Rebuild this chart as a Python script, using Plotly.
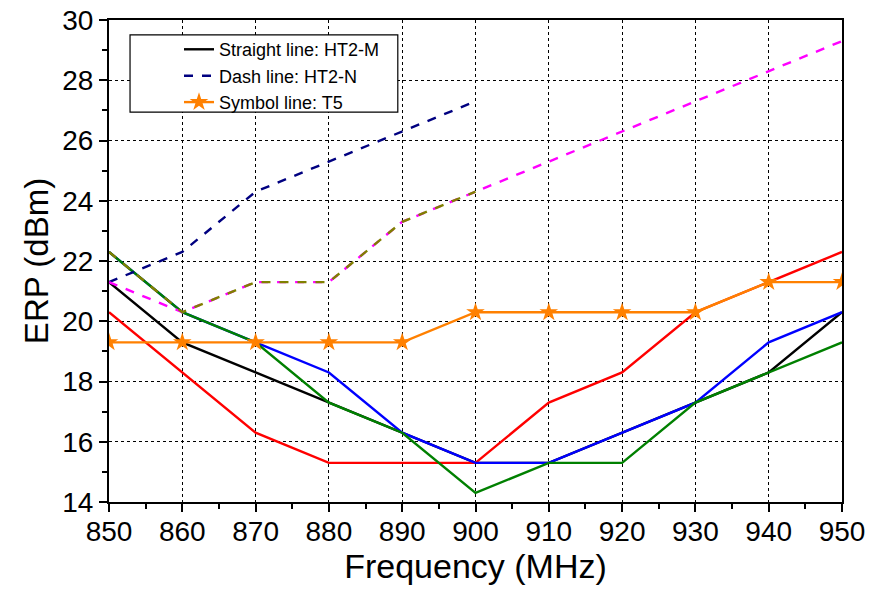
import plotly.graph_objects as go

freq = [850, 860, 870, 880, 890, 900, 910, 920, 930, 940, 950]

ht2m_black = [21.3, 19.3, 18.3, 17.3, 16.3, 15.3, 15.3, 16.3, 17.3, 18.3, 20.3]
ht2m_red = [20.3, 18.3, 16.3, 15.3, 15.3, 15.3, 17.3, 18.3, 20.3, 21.3, 22.3]
ht2m_blue = [22.3, 20.3, 19.3, 18.3, 16.3, 15.3, 15.3, 16.3, 17.3, 19.3, 20.3]
ht2m_green = [22.3, 20.3, 19.3, 17.3, 16.3, 14.3, 15.3, 15.3, 17.3, 18.3, 19.3]

ht2n_navy = [21.3, 22.3, 24.3, 25.3, 26.3, 27.3, None, None, None, None, None]
ht2n_magenta = [21.3, 20.3, 21.3, 21.3, 23.3, 24.3, 25.3, 26.3, 27.3, 28.3, 29.3]
ht2n_olive = [22.3, 20.3, 21.3, 21.3, 23.3, 24.3, None, None, None, None, None]

t5_orange = [19.3, 19.3, 19.3, 19.3, 19.3, 20.3, 20.3, 20.3, 20.3, 21.3, 21.3]

fig = go.Figure()

def line(y, color, dash="solid", name=None, legend=False):
    fig.add_trace(go.Scatter(x=freq, y=y, mode="lines", name=name,
                             showlegend=legend, connectgaps=False,
                             line=dict(color=color, width=2.4, dash=dash)))

line(ht2m_black, "black", name="Straight line: HT2-M", legend=True)
line(ht2m_red, "#ff0000")
line(ht2m_blue, "#0000ff")
line(ht2m_green, "#008000")
line(ht2n_navy, "#000080", dash="dash", name="Dash line: HT2-N", legend=True)
line(ht2n_magenta, "#ff00ff", dash="dash")
line(ht2n_olive, "#808000", dash="dash")

fig.add_trace(go.Scatter(x=freq, y=t5_orange, mode="lines+markers",
                         name="Symbol line: T5",
                         line=dict(color="#ff8000", width=2.4),
                         marker=dict(symbol="star", size=14, color="#ff8000")))

axis_common = dict(showline=True, linecolor="black", linewidth=2, mirror=True,
                   ticks="outside", ticklen=8, tickwidth=2, tickcolor="black",
                   showgrid=True, gridcolor="black", griddash="dot", gridwidth=1,
                   zeroline=False, automargin=False, ticklabeloverflow="allow",
                   tickfont=dict(size=28, color="black"))

fig.update_xaxes(range=[850, 950], dtick=10, tick0=850,
                 ticklabelstandoff=-5,
                 minor=dict(dtick=5, ticks="outside", ticklen=5, tickwidth=1.5,
                            tickcolor="black", showgrid=False),
                 title=dict(text="Frequency (MHz)", font=dict(size=34, color="black"),
                            standoff=6),
                 **axis_common)

fig.update_yaxes(range=[14, 30], dtick=2, tick0=14,
                 minor=dict(dtick=1, ticks="outside", ticklen=5, tickwidth=1.5,
                            tickcolor="black", showgrid=False),
                 title=dict(text="ERP (dBm)", font=dict(size=33, color="black"),
                            standoff=4),
                 **axis_common)

# opaque legend frame, wider than plotly's own legend box
fig.add_shape(type="rect", xref="paper", yref="paper",
              x0=0.0287, x1=0.394, y0=0.809, y1=0.969,
              line=dict(color="black", width=1.2), fillcolor="white", layer="above")

fig.update_layout(width=869, height=590,
                  margin=dict(l=109, r=27, t=20, b=88),
                  plot_bgcolor="white", paper_bgcolor="white",
                  font=dict(family="Liberation Sans, Arial", color="black"),
                  legend=dict(x=0.0955, y=0.977, xanchor="left", yanchor="top",
                              bgcolor="rgba(0,0,0,0)", borderwidth=0,
                              font=dict(size=18), tracegroupgap=0))

# drop the browser's default 8px body margin so the figure fills the window
fig.write_html("out.html", config={"displayModeBar": False},
               post_script="document.body.style.margin='0';"
                           "document.body.style.overflow='hidden';")
